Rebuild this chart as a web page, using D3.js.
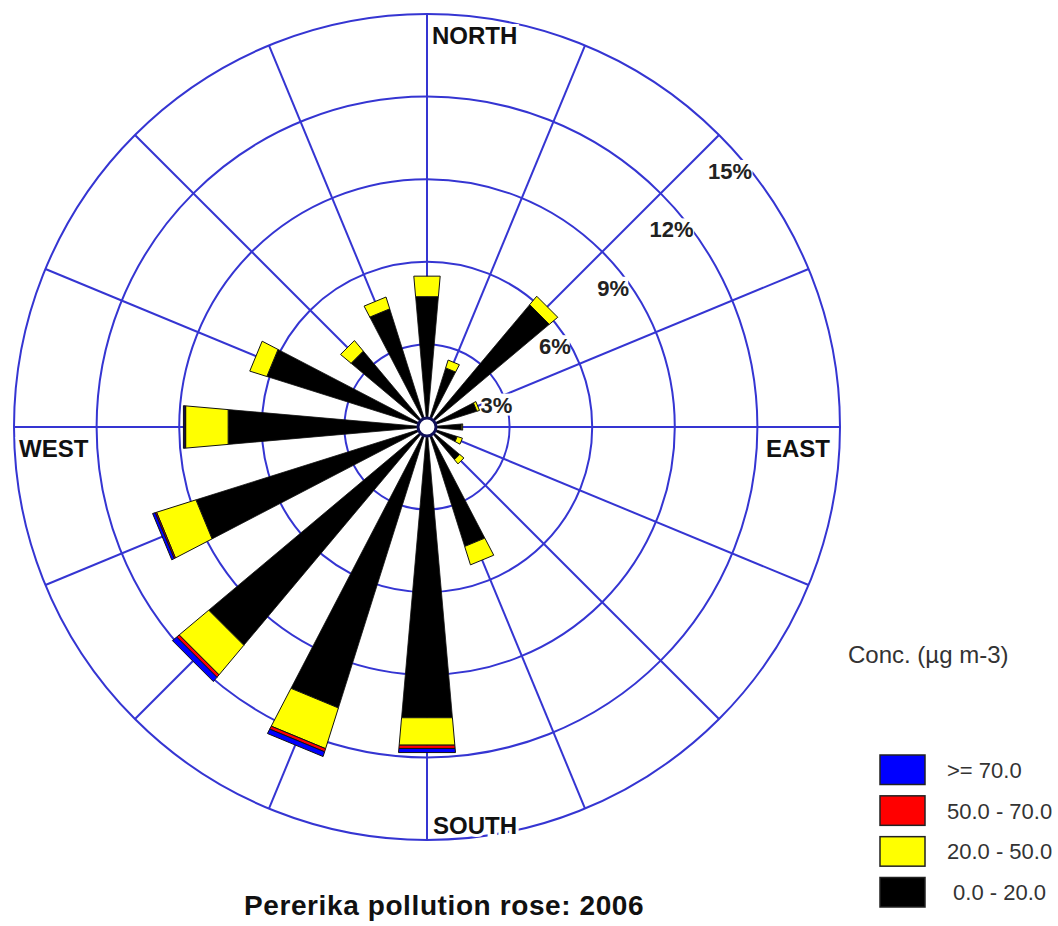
<!DOCTYPE html>
<html>
<head>
<meta charset="utf-8">
<script src="https://cdn.jsdelivr.net/npm/d3@7"></script>
<style>
  html, body { margin: 0; padding: 0; background: #fff; }
  svg { display: block; }
  text { font-family: Arial, "Liberation Sans", Helvetica, sans-serif; }
</style>
</head>
<body>
<svg id="chart" width="1058" height="926"></svg>
<script>
// ---- data ----
const directions = ["N","NNE","NE","ENE","E","ESE","SE","SSE","S","SSW","SW","WSW","W","WNW","NW","NNW"];
const conc0to20  = [4.75, 2.25, 5.8, 1.9, 1.25, 1.15, 1.55, 4.55, 10.6, 10.7, 10.35, 8.8, 7.25, 6.1, 3.6, 4.5];
const conc20to50 = [0.75, 0.3, 0.4, 0.1, 0.05, 0.2, 0.2, 0.7, 1.0, 1.55, 1.4, 1.5, 1.55, 0.65, 0.5, 0.45];
const conc50to70 = [0, 0, 0, 0, 0, 0, 0, 0, 0.12, 0.12, 0.12, 0.05, 0.03, 0, 0, 0];
const concAbove70= [0, 0, 0, 0, 0, 0, 0, 0, 0.15, 0.18, 0.2, 0.1, 0.05, 0, 0, 0];
const ringTicks = [3, 6, 9, 12, 15];
const ringLabels = ["3%", "6%", "9%", "12%", "15%"];
const compassLabels = ["NORTH", "EAST", "SOUTH", "WEST"];
const binKeys = ["c0", "c20", "c50", "c70"];
const binColors = ["#000000", "#ffff00", "#ff0000", "#0000ff"];
const legendLabels = [">= 70.0", "50.0 - 70.0", "20.0 - 50.0", " 0.0 - 20.0"];
const legendColors = ["#0000ff", "#ff0000", "#ffff00", "#000000"];
const legendTitle = "Conc. (\u00b5g m-3)";
const title = "Pererika pollution rose: 2006";

// ---- layout ----
const svg = d3.select("#chart");
const cx = 427, cy = 427, R = 413;
const gridColor = "#3535d2";
const rScale = d3.scaleLinear().domain([0, 15]).range([0, R]);
const bearing = d3.scalePoint().domain(directions).range([0, 337.5]);
const halfWidth = 5; // degrees
const rad = d => d * Math.PI / 180;
const pt = (r, deg) => [cx + r * Math.sin(rad(deg)), cy - r * Math.cos(rad(deg))];

const g = svg.append("g");

// grid rings
g.selectAll("circle.ring").data(ringTicks).join("circle")
  .attr("class", "ring")
  .attr("cx", cx).attr("cy", cy)
  .attr("r", d => rScale(d))
  .attr("fill", "none").attr("stroke", gridColor).attr("stroke-width", 2);

// radial lines
g.selectAll("line.spoke").data(directions).join("line")
  .attr("class", "spoke")
  .attr("x1", cx).attr("y1", cy)
  .attr("x2", d => pt(R, bearing(d))[0])
  .attr("y2", d => pt(R, bearing(d))[1])
  .attr("stroke", gridColor).attr("stroke-width", 2);

// compass labels
const compass = [
  {t: compassLabels[0], x: cx + 5, y: cy - R + 30, a: "start"},
  {t: compassLabels[1], x: cx + R - 10, y: cy + 30, a: "end"},
  {t: compassLabels[2], x: cx + 6, y: cy + R - 6, a: "start"},
  {t: compassLabels[3], x: cx - R + 5, y: cy + 30, a: "start"}
];
const cg = g.selectAll("g.compass").data(compass).join("g").attr("class", "compass");
cg.append("text")
  .attr("x", d => d.x).attr("y", d => d.y)
  .attr("text-anchor", d => d.a)
  .attr("font-size", 24).attr("font-weight", "bold").attr("fill", "#111")
  .attr("stroke", "#fff").attr("stroke-width", 6).attr("paint-order", "stroke")
  .text(d => d.t);

// percentage labels
const pl = g.selectAll("g.pct").data(ringTicks).join("g").attr("class", "pct")
  .attr("transform", d => {
    const p = pt(rScale(d), 45);
    return `translate(${p[0] + 11},${p[1] + 36})`;
  });
pl.append("rect")
  .attr("x", (d, i) => -ringLabels[i].length * 7.5)
  .attr("y", -11)
  .attr("width", (d, i) => ringLabels[i].length * 15)
  .attr("height", 22)
  .attr("fill", "#fff");
pl.append("text")
  .attr("text-anchor", "middle").attr("dy", "0.36em")
  .attr("font-size", 22).attr("font-weight", "bold").attr("fill", "#222")
  .text((d, i) => ringLabels[i]);

// bars
const rows = directions.map((d, i) => ({dir: d, c0: conc0to20[i], c20: conc20to50[i], c50: conc50to70[i], c70: concAbove70[i]}));
const stacked = d3.stack().keys(binKeys)(rows);
const wedge = (r0, r1, b) => {
  const pts = [pt(r0, b - halfWidth), pt(r1, b - halfWidth), pt(r1, b + halfWidth), pt(r0, b + halfWidth)];
  return "M" + pts.map(p => p.join(",")).join("L") + "Z";
};
const bars = g.append("g");
stacked.forEach((series, si) => {
  bars.append("g").selectAll("path").data(series.filter(s => s[1] - s[0] > 0)).join("path")
    .attr("d", s => wedge(rScale(s[0]), rScale(s[1]), bearing(s.data.dir)))
    .attr("fill", binColors[si])
    .attr("stroke", "#111")
    .attr("stroke-width", si === 0 ? 0.8 : 1)
    .attr("stroke-linejoin", "miter");
});

// centre hole
g.append("circle").attr("cx", cx).attr("cy", cy).attr("r", 9)
  .attr("fill", "#fff").attr("stroke", "#10105a").attr("stroke-width", 3);

// title
svg.append("text")
  .attr("x", 244).attr("y", 915)
  .attr("font-size", 28).attr("font-weight", "bold").attr("fill", "#111")
  .attr("letter-spacing", 0.6)
  .text(title);

// legend
const lg = svg.append("g");
lg.append("text").attr("x", 848).attr("y", 663)
  .attr("font-size", 24).attr("fill", "#333").text(legendTitle);
const ly = d3.scaleBand().domain(d3.range(legendLabels.length)).range([755, 907]).paddingInner(0.2776).paddingOuter(0);
const items = lg.selectAll("g.item").data(legendLabels).join("g").attr("class", "item");
items.append("rect")
  .attr("x", 880).attr("y", (d, i) => ly(i))
  .attr("width", 45).attr("height", ly.bandwidth())
  .attr("fill", (d, i) => legendColors[i])
  .attr("stroke", "#222").attr("stroke-width", 1.5);
items.append("text")
  .attr("x", 947).attr("y", (d, i) => ly(i) + ly.bandwidth() / 2)
  .attr("dy", "0.36em")
  .attr("font-size", 22).attr("fill", "#333")
  .style("white-space", "pre")
  .text(d => d);
</script>
</body>
</html>
